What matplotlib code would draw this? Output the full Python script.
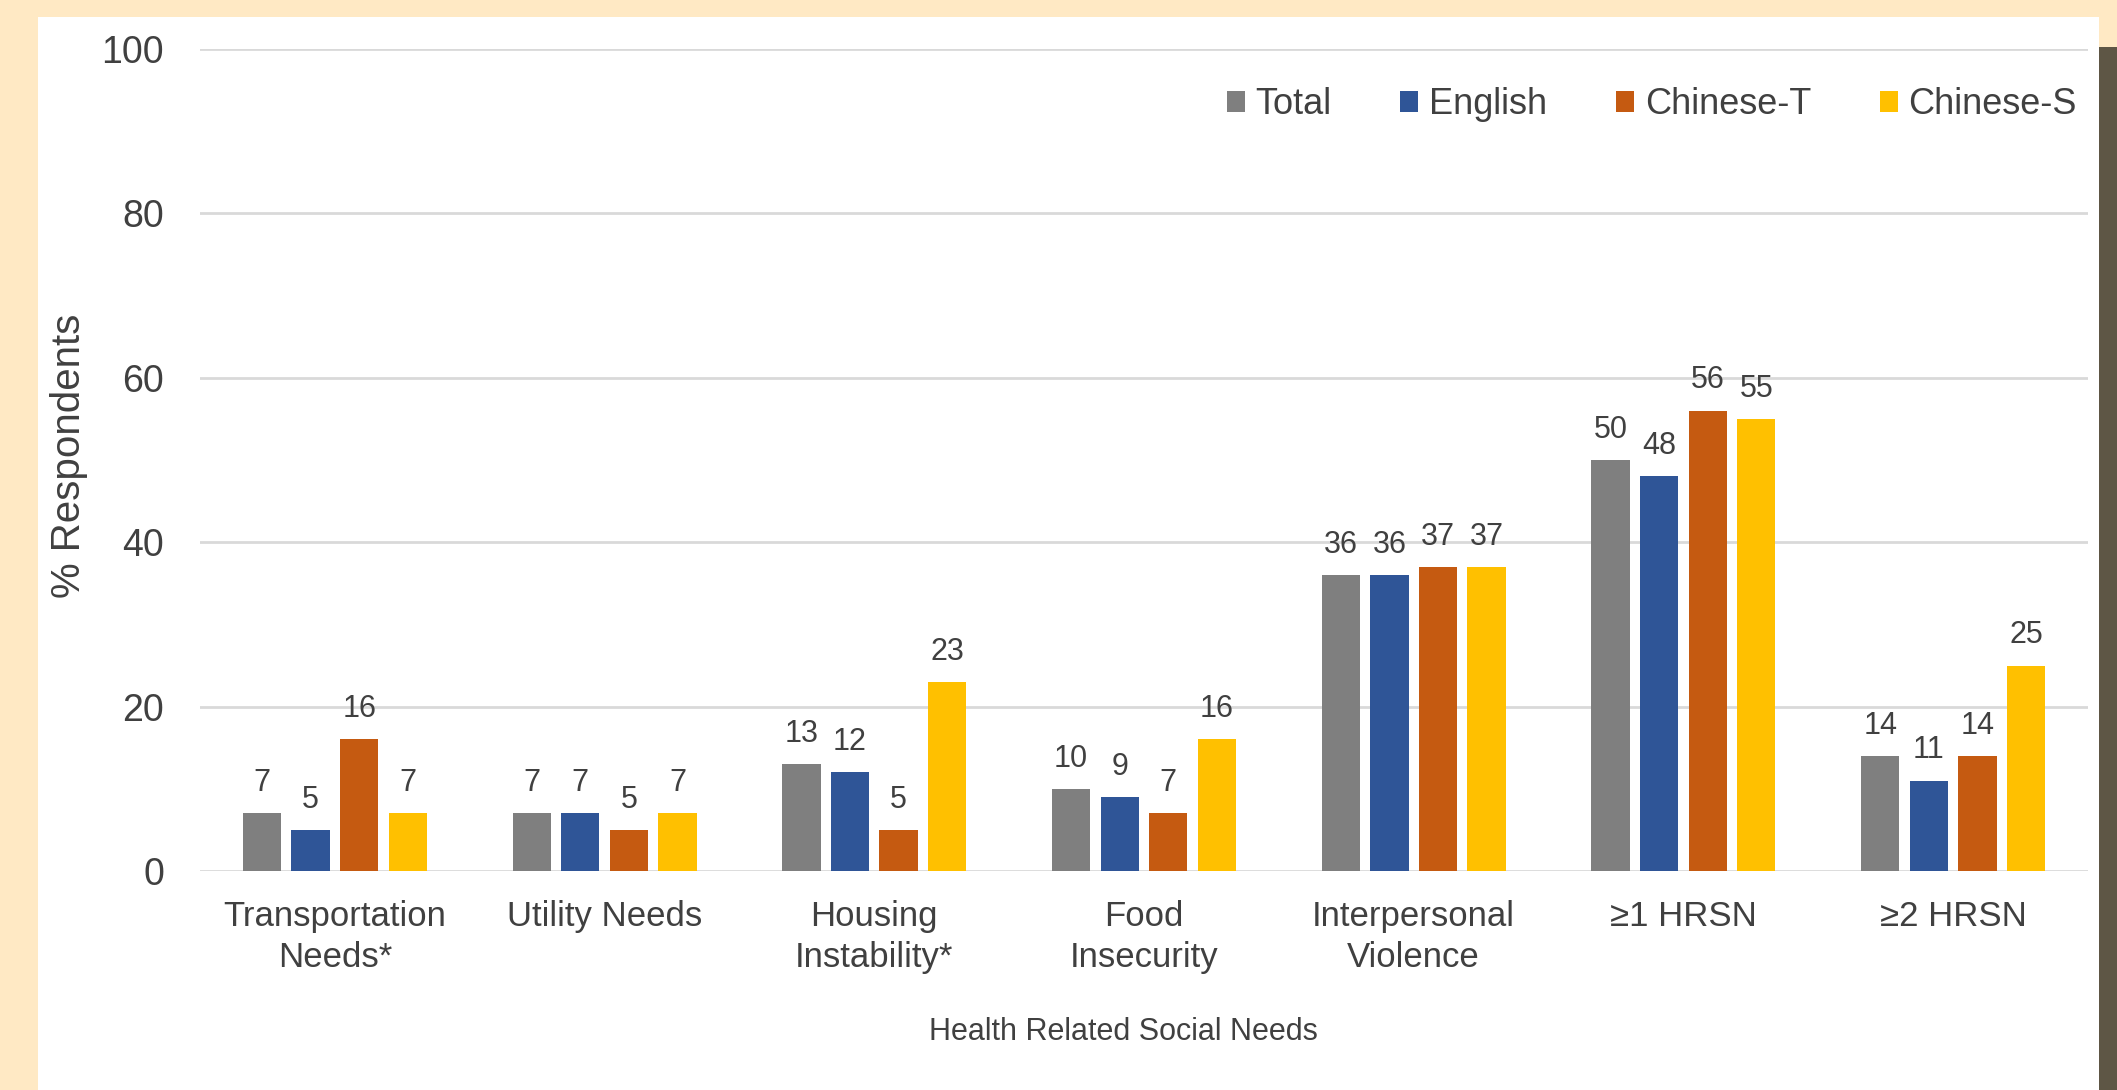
import matplotlib
matplotlib.use("Agg")
import matplotlib.pyplot as plt
from matplotlib.patches import Patch, Rectangle
import numpy as np

plt.rcParams['font.family'] = ['Liberation Sans', 'DejaVu Sans']

# data
categories = ["Transportation\nNeeds*", "Utility Needs", "Housing\nInstability*",
              "Food\nInsecurity", "Interpersonal\nViolence", "\u22651 HRSN", "\u22652 HRSN"]
groups = ["Total", "English", "Chinese-T", "Chinese-S"]
total = [7, 7, 13, 10, 36, 50, 14]
english = [5, 7, 12, 9, 36, 48, 11]
chinese_t = [16, 5, 5, 7, 37, 56, 14]
chinese_s = [7, 7, 23, 16, 37, 55, 25]
yticks = [0, 20, 40, 60, 80, 100]

colors = ["#7F7F7F", "#2F5597", "#C55A11", "#FFC000"]
txt = "#404040"

W, H = 2117, 1090
fig = plt.figure(figsize=(W / 100, H / 100), dpi=100)
fig.patch.set_facecolor("#FFE9C4")

# white panel and shadow on the right
fig.patches.append(Rectangle((38 / W, 0), (2099 - 38) / W, 1 - 17 / H,
                             transform=fig.transFigure, facecolor="white",
                             edgecolor="none", zorder=-2))
fig.patches.append(Rectangle((2099 / W, 0), 18 / W, 1 - 47 / H,
                             transform=fig.transFigure, facecolor="#5E5645",
                             edgecolor="none", zorder=-2))

ax = fig.add_axes([200 / W, (H - 871) / H, (2088 - 200) / W, (871 - 49) / H])
ax.set_facecolor("none")

x = np.arange(len(categories))
series = [total, english, chinese_t, chinese_s]
offsets = [-0.27, -0.09, 0.09, 0.27]
for vals, off, col in zip(series, offsets, colors):
    bars = ax.bar(x + off, vals, width=0.142, color=col, zorder=3)
    for b, v in zip(bars, vals):
        ax.annotate(str(v), (b.get_x() + b.get_width() / 2, v),
                    xytext=(0, 11), textcoords="offset points",
                    ha="center", va="bottom", fontsize=22, color=txt)

ax.set_xlim(-0.5, len(categories) - 0.5)
ax.set_ylim(0, 100)
ax.set_yticks(yticks)
ax.set_xticks(x)
ax.set_xticklabels(categories, fontsize=25, color=txt, linespacing=1.3)
ax.tick_params(axis="y", length=0, pad=26, labelsize=27, labelcolor=txt)
ax.tick_params(axis="x", length=0, pad=21)
ax.yaxis.grid(True, color="#D9D9D9", linewidth=2)
ax.set_axisbelow(True)
for s in ax.spines.values():
    s.set_visible(False)

fig.text(69 / W, 1 - 456 / H, "% Respondents", rotation=90, ha="center",
         va="center", fontsize=29, color=txt)
fig.text(1123 / W, 1 - 1032 / H, "Health Related Social Needs", ha="center",
         va="center", fontsize=22, color=txt)

handles = [Patch(facecolor=c, edgecolor="none") for c in colors]
ax.legend(handles, groups, loc="center right", ncol=4, frameon=False,
          bbox_to_anchor=(2077 / W, 1 - 105 / H), bbox_transform=fig.transFigure,
          fontsize=26, handlelength=0.5, handleheight=0.5, handletextpad=0.3,
          columnspacing=1.9, borderpad=0, borderaxespad=0, labelcolor=txt)

fig.savefig("out.png", dpi=100, facecolor=fig.get_facecolor())
